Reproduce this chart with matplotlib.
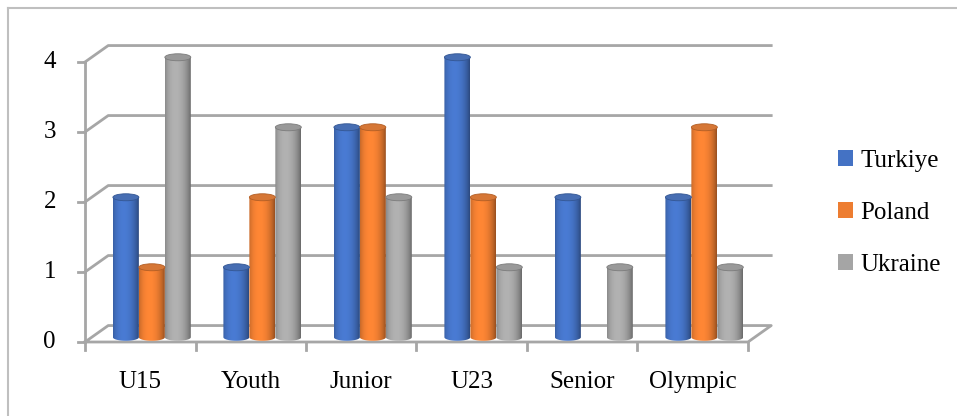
import numpy as np
import matplotlib
matplotlib.use("Agg")
import matplotlib.pyplot as plt
from matplotlib.patches import Ellipse, Patch
from matplotlib.path import Path
from matplotlib.colors import to_rgb

categories = ["U15", "Youth", "Junior", "U23", "Senior", "Olympic"]
series = ["Turkiye", "Poland", "Ukraine"]
turkiye = [2, 1, 3, 4, 2, 2]
poland = [1, 2, 3, 2, 0, 3]
ukraine = [4, 3, 2, 1, 1, 1]
yticks = [0, 1, 2, 3, 4]

colors = ["#4472C4", "#ED7D31", "#A5A5A5"]
grid_col = "#A6A6A6"

plt.rcParams["font.family"] = ["Liberation Serif", "DejaVu Serif"]
fs = 18

fig = plt.figure(figsize=(9.57, 4.16), dpi=100)
ax = fig.add_axes([0, 0, 1, 1])
# front plane: x 0..6 -> px 85..748, y 0..4 -> px 342..62
ax.set_xlim(-85 / 110.5, 6 + (957 - 748) / 110.5)
ax.set_ylim(-(416 - 342) / 70, 4 + 62 / 70)
ax.axis("off")

n = len(categories)
dx, dy = 0.21, 0.235  # depth offset of back wall

# walls / gridlines
for v in yticks[1:]:
    ax.plot([0, dx, n + dx], [v, v + dy, v + dy], color=grid_col, lw=2, zorder=1)
ax.plot([0, n, n + dx, dx, 0], [0, 0, dy, dy, 0], color=grid_col, lw=2, zorder=1)
ax.plot([0, 0], [0, yticks[-1]], color=grid_col, lw=2, zorder=1)
for v in yticks:
    ax.plot([-0.065, 0], [v, v], color=grid_col, lw=2, zorder=1)
    ax.text(-0.32, v, str(v), ha="center", va="center", fontsize=fs)
for i in range(n + 1):
    ax.plot([i, i], [0, -0.11], color=grid_col, lw=2, zorder=1)
for i, c in enumerate(categories):
    ax.text(i + 0.5, -0.57, c, ha="center", va="center", fontsize=fs)

# cylinders
bw = 0.235
eh = 0.1
grad = np.linspace(0, 1, 64)
shade = 0.62 + 0.55 * np.sin(np.pi * (grad * 0.9 + 0.05)) ** 0.5 - 0.2 * grad
for s, vals in enumerate([turkiye, poland, ukraine]):
    base = np.array(to_rgb(colors[s]))
    img = np.clip(base[None, :] * shade[:, None], 0, 1)[None, :, :]
    for i, v in enumerate(vals):
        if v == 0:
            continue
        x0 = i + 0.5 - 1.5 * bw + s * bw + dx / 2
        x1 = x0 + bw
        y0 = dy / 2 - 0.05
        xc = (x0 + x1) / 2
        t = np.linspace(np.pi, 2 * np.pi, 30)
        verts = [(x0, y0 + v)] + [(xc + bw / 2 * np.cos(a), y0 + eh / 2 * np.sin(a)) for a in t] + [(x1, y0 + v), (x0, y0 + v)]
        clip = Path(verts, closed=True)
        im = ax.imshow(img, extent=[x0, x1, y0 - eh, y0 + v], aspect="auto",
                       interpolation="bilinear", zorder=3 + i * 0.01)
        im.set_clip_path(clip, transform=ax.transData)
        top = Ellipse((xc, y0 + v), bw, eh, facecolor=base * 0.85 + 0.05,
                      edgecolor=base * 0.75, lw=0.6, zorder=3.5 + i * 0.01)
        ax.add_patch(top)

handles = [Patch(facecolor=c) for c in colors]
fig.legend(handles, series, loc="center left", bbox_to_anchor=(838 / 957, 1 - 213 / 416),
           frameon=False, fontsize=fs, handlelength=0.6, handleheight=0.6,
           handletextpad=0.3, labelspacing=1.2, borderpad=0, borderaxespad=0)

# chart border
fig.add_artist(plt.Line2D([8 / 957, 1], [1 - 8 / 416] * 2, color="#BFBFBF", lw=1.5,
                          transform=fig.transFigure))
fig.add_artist(plt.Line2D([8 / 957] * 2, [0, 1 - 8 / 416], color="#BFBFBF", lw=1.5,
                          transform=fig.transFigure))

fig.savefig("out.png", dpi=100)
